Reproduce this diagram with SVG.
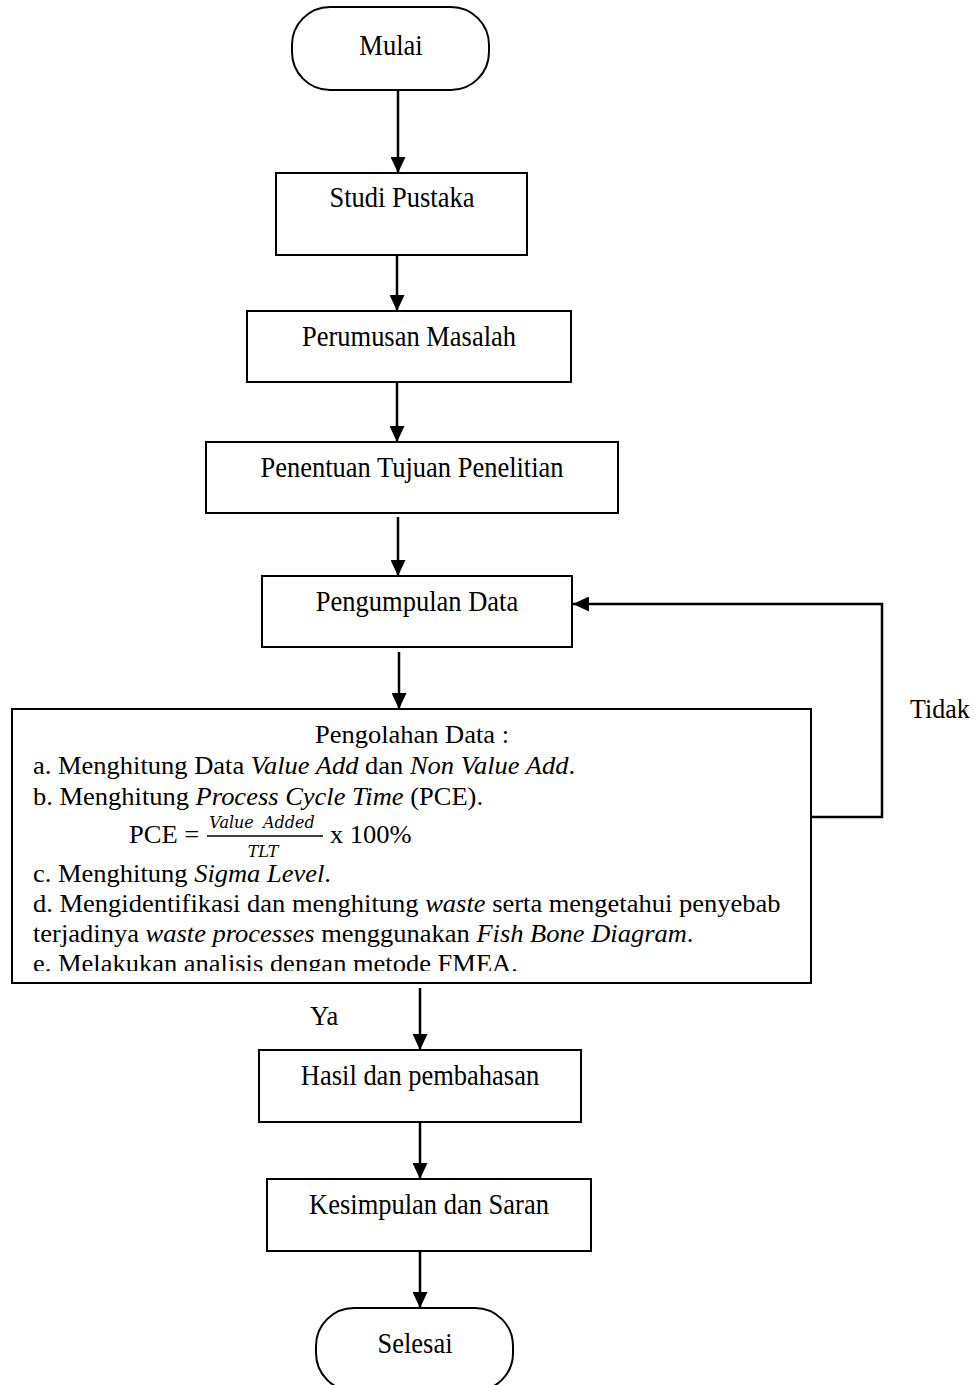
<svg xmlns="http://www.w3.org/2000/svg" width="974" height="1385" viewBox="0 0 974 1385">
<style>
.box{fill:#fff;stroke:#000;stroke-width:2}
.con{fill:none;stroke:#000;stroke-width:2.5}
.t{font-family:"Liberation Serif","Times New Roman",serif;font-size:26.5px;fill:#000}
.c{text-anchor:middle}
.i{font-style:italic}
.m{font-family:"DejaVu Serif",serif;font-style:italic;font-size:16px;fill:#000}
</style>
<defs>
<marker id="ah" markerUnits="userSpaceOnUse" markerWidth="16" markerHeight="15" refX="16" refY="7.5" orient="auto">
<path d="M0,0 L16,7.5 L0,15 z" fill="#000"/>
</marker>
<clipPath id="clipBig"><rect x="12" y="709" width="800" height="262"/></clipPath>
</defs>
<g id="connectors">
<path class="con" d="M398,91 V173" marker-end="url(#ah)"/>
<path class="con" d="M397,256 V311" marker-end="url(#ah)"/>
<path class="con" d="M397,383 V442" marker-end="url(#ah)"/>
<path class="con" d="M398,517 V576" marker-end="url(#ah)"/>
<path class="con" d="M399,652 V709" marker-end="url(#ah)"/>
<path class="con" d="M420,988 V1050" marker-end="url(#ah)"/>
<path class="con" d="M420,1123 V1179" marker-end="url(#ah)"/>
<path class="con" d="M420,1252 V1308" marker-end="url(#ah)"/>
<path class="con" d="M811,817 H882 V604 H573" marker-end="url(#ah)"/>
<text class="t" transform="translate(910,718) scale(0.98,1.05)">Tidak</text>
<text class="t" transform="translate(310,1025) scale(1,1.05)">Ya</text>
</g>
<g id="mulai">
<rect class="box" x="292" y="7" width="197" height="83" rx="38" ry="38"/>
<text class="t c" transform="translate(391,55) scale(1,1.12)">Mulai</text>
</g>
<g id="studi-pustaka">
<rect class="box" x="276" y="173" width="251" height="82"/>
<text class="t c" transform="translate(402,207) scale(1,1.12)">Studi Pustaka</text>
</g>
<g id="perumusan-masalah">
<rect class="box" x="247" y="311" width="324" height="71"/>
<text class="t c" transform="translate(409,346) scale(1,1.12)">Perumusan Masalah</text>
</g>
<g id="penentuan-tujuan">
<rect class="box" x="206" y="442" width="412" height="71"/>
<text class="t c" transform="translate(412,477) scale(1,1.12)">Penentuan Tujuan Penelitian</text>
</g>
<g id="pengumpulan-data">
<rect class="box" x="262" y="576" width="310" height="71"/>
<text class="t c" transform="translate(417,611) scale(1,1.12)">Pengumpulan Data</text>
</g>
<g id="pengolahan-data">
<rect class="box" x="12" y="709" width="799" height="274"/>
<g clip-path="url(#clipBig)">
<text class="t c" transform="translate(412,743) scale(1,0.92)">Pengolahan Data :</text>
<text class="t" transform="translate(33,774) scale(1,0.92)">a. Menghitung Data <tspan class="i">Value Add</tspan> dan <tspan class="i">Non Value Add</tspan>.</text>
<text class="t" transform="translate(33,805) scale(1,0.92)">b. Menghitung <tspan class="i">Process Cycle Time</tspan> (PCE).</text>
<text class="t" transform="translate(129,843) scale(1,0.92)">PCE =</text>
<text class="m" x="262" y="828" text-anchor="middle" word-spacing="4">Value Added</text>
<line x1="207" y1="836" x2="323" y2="836" stroke="#000" stroke-width="1.5"/>
<text class="m" x="263" y="857" text-anchor="middle">TLT</text>
<text class="t" transform="translate(330,843) scale(1,0.92)">x 100%</text>
<text class="t" transform="translate(33,882) scale(1,0.92)">c. Menghitung <tspan class="i">Sigma Level</tspan>.</text>
<text class="t" transform="translate(33,912) scale(1,0.92)">d. Mengidentifikasi dan menghitung <tspan class="i">waste</tspan> serta mengetahui penyebab</text>
<text class="t" transform="translate(33,942) scale(1,0.92)">terjadinya <tspan class="i">waste processes</tspan> menggunakan <tspan class="i">Fish Bone Diagram</tspan>.</text>
<text class="t" transform="translate(33,972) scale(1,0.92)">e. Melakukan analisis dengan metode FMEA.</text>
</g>
</g>
<g id="hasil-pembahasan">
<rect class="box" x="259" y="1050" width="322" height="72"/>
<text class="t c" transform="translate(420,1085) scale(1,1.12)">Hasil dan pembahasan</text>
</g>
<g id="kesimpulan-saran">
<rect class="box" x="267" y="1179" width="324" height="72"/>
<text class="t c" transform="translate(429,1214) scale(1,1.12)">Kesimpulan dan Saran</text>
</g>
<g id="selesai">
<rect class="box" x="316" y="1308" width="197" height="83" rx="38" ry="38"/>
<text class="t c" transform="translate(415,1353) scale(1,1.12)">Selesai</text>
</g>
</svg>
